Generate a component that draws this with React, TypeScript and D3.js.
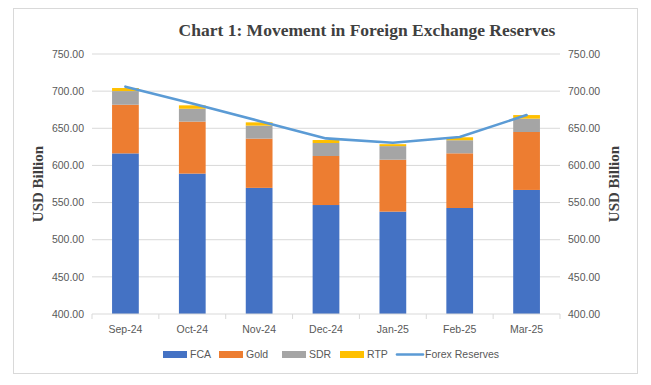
import * as d3 from "d3";

const months = ["Sep-24", "Oct-24", "Nov-24", "Dec-24", "Jan-25", "Feb-25", "Mar-25"];
const fca = [616.2, 589.0, 569.8, 546.7, 537.8, 542.7, 567.0];
const gold = [65.5, 70.0, 66.3, 66.0, 69.9, 73.6, 78.0];
const sdr = [18.4, 17.3, 17.5, 17.5, 18.3, 17.6, 18.0];
const rtp = [4.1, 4.6, 4.4, 4.0, 2.6, 4.0, 4.8];
const forex = [706.0, 683.3, 659.8, 636.4, 630.6, 638.3, 667.8];
const yTicks = [400, 450, 500, 550, 600, 650, 700, 750];

const seriesNames = ["FCA", "Gold", "SDR", "RTP"];
const colors: Record<string, string> = {
  FCA: "#4472C4",
  Gold: "#ED7D31",
  SDR: "#A5A5A5",
  RTP: "#FFC000",
};
const lineColor = "#5B9BD5";

const width = 651;
const height = 385;
const margin = { top: 54, right: 91, bottom: 71, left: 92 };

export default function App() {
  const rows = months.map((m, i) => ({
    month: m,
    FCA: fca[i],
    Gold: gold[i],
    SDR: sdr[i],
    RTP: rtp[i],
  }));
  const stacked = d3.stack<any>().keys(seriesNames)(rows);

  const x = d3
    .scaleBand()
    .domain(months)
    .range([margin.left, width - margin.right])
    .paddingInner(0.6)
    .paddingOuter(0.3);
  const band = d3
    .scaleBand()
    .domain(months)
    .range([margin.left, width - margin.right]);
  const y = d3
    .scaleLinear()
    .domain([400, 750])
    .range([height - margin.bottom, margin.top]);

  const line = d3
    .line<number>()
    .x((d, i) => (band(months[i]) as number) + band.bandwidth() / 2)
    .y((d) => y(d));

  const tickFont = "'Liberation Sans', Arial, sans-serif";
  const serif = "'Liberation Serif', 'Times New Roman', serif";
  const textColor = "#595959";
  const x0 = margin.left;
  const x1 = width - margin.right;
  const yBase = y(400);

  const legend = [
    { name: "FCA", x: 163, type: "rect" },
    { name: "Gold", x: 219, type: "rect" },
    { name: "SDR", x: 282, type: "rect" },
    { name: "RTP", x: 340, type: "rect" },
    { name: "Forex Reserves", x: 397, type: "line" },
  ];

  return (
    <svg
      width={width}
      height={height}
      style={{ position: "absolute", left: 0, top: 0, background: "#fff" }}
    >
      <rect x={13.5} y={8.5} width={624} height={365} fill="#fff" stroke="#D9D9D9" />
      <text
        x={367}
        y={36}
        textAnchor="middle"
        fontFamily={serif}
        fontWeight="bold"
        fontSize={17.5}
        fill="#404040"
      >
        Chart 1: Movement in Foreign Exchange Reserves
      </text>

      {yTicks.map((t) => (
        <g key={t}>
          {t > 400 && (
            <line x1={x0} x2={x1} y1={y(t)} y2={y(t)} stroke="#D9D9D9" strokeWidth={1} />
          )}
          <text
            x={84}
            y={y(t)}
            dy="0.35em"
            textAnchor="end"
            fontFamily={tickFont}
            fontSize={10.5}
            fill={textColor}
          >
            {t.toFixed(2)}
          </text>
          <text
            x={568}
            y={y(t)}
            dy="0.35em"
            textAnchor="start"
            fontFamily={tickFont}
            fontSize={10.5}
            fill={textColor}
          >
            {t.toFixed(2)}
          </text>
        </g>
      ))}

      {stacked.map((s) => (
        <g key={s.key} fill={colors[s.key]}>
          {s.map((d, i) => {
            const lo = Math.max(d[0], 400);
            return (
              <rect
                key={i}
                x={x(months[i])}
                width={x.bandwidth()}
                y={y(d[1])}
                height={y(lo) - y(d[1])}
              />
            );
          })}
        </g>
      ))}

      <line x1={x0} x2={x1} y1={yBase} y2={yBase} stroke="#D9D9D9" strokeWidth={1} />
      {months.map((m) => (
        <g key={m}>
          <line
            x1={band(m) as number}
            x2={band(m) as number}
            y1={yBase}
            y2={yBase + 5}
            stroke="#D9D9D9"
          />
          <text
            x={(band(m) as number) + band.bandwidth() / 2}
            y={329}
            dy="0.35em"
            textAnchor="middle"
            fontFamily={tickFont}
            fontSize={10.5}
            fill={textColor}
          >
            {m}
          </text>
        </g>
      ))}
      <line x1={x1} x2={x1} y1={yBase} y2={yBase + 5} stroke="#D9D9D9" />

      <path
        d={line(forex) || ""}
        fill="none"
        stroke={lineColor}
        strokeWidth={2.6}
        strokeLinejoin="round"
        strokeLinecap="round"
      />

      <text
        transform={`translate(43,184) rotate(-90)`}
        textAnchor="middle"
        fontFamily={serif}
        fontWeight="bold"
        fontSize={15}
        fill="#404040"
      >
        USD Billion
      </text>
      <text
        transform={`translate(619,184) rotate(-90)`}
        textAnchor="middle"
        fontFamily={serif}
        fontWeight="bold"
        fontSize={15}
        fill="#404040"
      >
        USD Billion
      </text>

      {legend.map((l) => (
        <g key={l.name}>
          {l.type === "rect" ? (
            <rect x={l.x} y={351} width={24} height={7} fill={colors[l.name]} />
          ) : (
            <line
              x1={l.x}
              x2={l.x + 26}
              y1={354.5}
              y2={354.5}
              stroke={lineColor}
              strokeWidth={2.6}
              strokeLinecap="round"
            />
          )}
          <text
            x={l.x + (l.type === "rect" ? 27 : 28)}
            y={354.5}
            dy="0.35em"
            fontFamily={tickFont}
            fontSize={10.5}
            fill={textColor}
          >
            {l.name}
          </text>
        </g>
      ))}
    </svg>
  );
}
